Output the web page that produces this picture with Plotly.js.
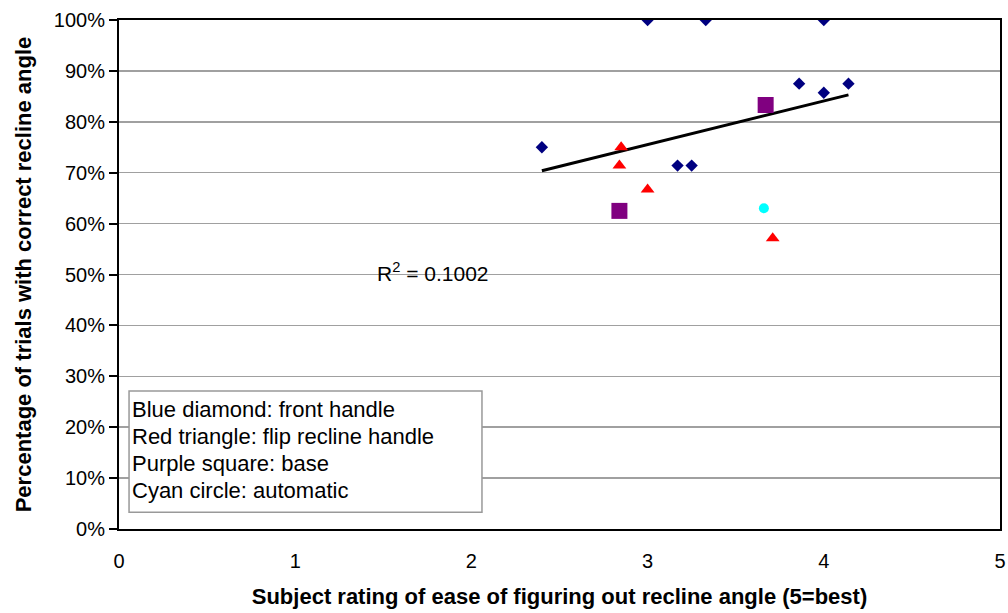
<!DOCTYPE html>
<html>
<head>
<meta charset="utf-8">
<script src="https://cdn.plot.ly/plotly-3.0.1.min.js"></script>
<style>html,body{margin:0;padding:0;background:#fff;}#chart{width:1008px;height:613px;}</style>
</head>
<body>
<div id="chart"></div>
<script>
// Data
const diamondX = [2.40, 3.00, 3.33, 4.00, 3.86, 4.00, 4.14, 3.17, 3.25];
const diamondY = [0.75, 1.00, 1.00, 1.00, 0.875, 0.857, 0.875, 0.714, 0.714];
const triangleX = [2.85, 2.84, 3.00, 3.71];
const triangleY = [0.75, 0.714, 0.667, 0.571];
const squareX = [2.84, 3.67];
const squareY = [0.625, 0.833];
const circleX = [3.66];
const circleY = [0.63];
const legendLines = [
  "Blue diamond: front handle",
  "Red triangle: flip recline handle",
  "Purple square: base",
  "Cyan circle: automatic"
];
const r2Label = "R<sup>2</sup> = 0.1002";
const xTitle = "Subject rating of ease of figuring out recline angle (5=best)";
const yTitle = "Percentage of trials with correct recline angle";

// Linear trendline over all points
const allX = diamondX.concat(triangleX, squareX, circleX);
const allY = diamondY.concat(triangleY, squareY, circleY);
const n = allX.length;
const mx = allX.reduce((a,b)=>a+b,0)/n;
const my = allY.reduce((a,b)=>a+b,0)/n;
let sxy = 0, sxx = 0;
for (let i=0;i<n;i++){ sxy += (allX[i]-mx)*(allY[i]-my); sxx += (allX[i]-mx)**2; }
const slope = sxy/sxx, icpt = my - slope*mx;
const xmin = Math.min(...allX), xmax = Math.max(...allX);
const trendX = [xmin, xmax];
const trendY = trendX.map(x => icpt + slope*x);

const FONT = "Arial, 'Liberation Sans', sans-serif";

const traces = [
  {x: trendX, y: trendY, mode: 'lines', line: {color: '#000000', width: 3}, hoverinfo: 'skip'},
  {x: diamondX, y: diamondY, mode: 'markers', marker: {symbol: 'diamond', color: '#000080', size: 9.5}},
  {x: triangleX, y: triangleY, mode: 'markers', marker: {symbol: 'triangle-up', color: '#FF0000', size: 12}},
  {x: squareX, y: squareY, mode: 'markers', marker: {symbol: 'square', color: '#800080', size: 16}},
  {x: circleX, y: circleY, mode: 'markers', marker: {symbol: 'circle', color: '#00FFFF', size: 10}}
];

const annotations = [
  {x: 1.78, y: 0.505, xref: 'x', yref: 'y', text: r2Label, showarrow: false,
   font: {family: FONT, size: 21, color: '#000'}}
];
const legTop = 0.271, legStep = 27/509;
legendLines.forEach((t, i) => {
  annotations.push({x: 0.013, y: legTop - 0.005 - (i+0.5)*legStep - 0.005, xref: 'paper', yref: 'paper',
    xanchor: 'left', yanchor: 'middle', text: t, showarrow: false,
    font: {family: FONT, size: 22, color: '#000'}});
});

const layout = {
  width: 1008, height: 613,
  margin: {l: 119, r: 8, t: 20, b: 84},
  paper_bgcolor: '#fff', plot_bgcolor: '#fff',
  showlegend: false,
  font: {family: FONT, color: '#000'},
  xaxis: {
    range: [0, 5], dtick: 1, tick0: 0, showgrid: false, zeroline: false,
    showline: true, mirror: true, linecolor: '#000', linewidth: 2,
    ticks: '', ticklabelstandoff: 13, tickfont: {family: FONT, size: 20, color: '#000'},
    title: {text: '<b>' + xTitle + '</b>', font: {family: FONT, size: 22, color: '#000'}, standoff: 18}
  },
  yaxis: {
    range: [0, 1], dtick: 0.1, tick0: 0, tickformat: '.0%',
    showgrid: true, gridcolor: '#a0a0a0', gridwidth: 1.5, zeroline: false,
    showline: true, mirror: true, linecolor: '#000', linewidth: 2,
    ticks: 'outside', ticklen: 8, tickwidth: 2, tickcolor: '#000',
    tickfont: {family: FONT, size: 20, color: '#000'},
    title: {text: '<b>' + yTitle + '</b>', font: {family: FONT, size: 22, color: '#000'}, standoff: 16}
  },
  shapes: [
    {type: 'rect', xref: 'paper', yref: 'paper', x0: 0.0114, x1: 0.412, y0: 0.033, y1: 0.271,
     line: {color: '#999', width: 1.5}, fillcolor: '#fff', layer: 'above'}
  ],
  annotations: annotations
};

Plotly.newPlot('chart', traces, layout, {displayModeBar: false, staticPlot: true});
</script>
</body>
</html>
